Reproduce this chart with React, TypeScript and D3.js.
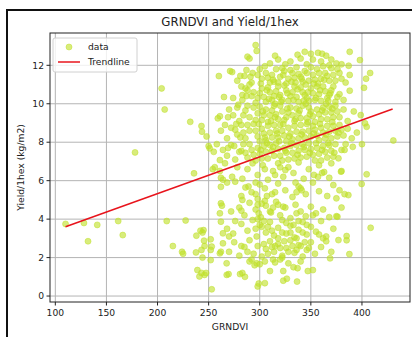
import React from 'react';
import * as d3 from 'd3';

const W = 412;
const H = 337;
const margin = { top: 33, right: 2, bottom: 35, left: 50 };

// points as [GRNDVI, yield]
const outliers = [
  [110, 3.75], [128, 3.8], [132, 2.85], [141, 3.7], [161.5, 3.9], [166, 3.17], [178, 7.47],
  [204, 10.8], [207, 9.7], [209, 3.9], [215, 2.6], [224, 2.3], [225, 2.2], [227.5, 3.93],
  [232, 9.06], [235.7, 6.38], [238, 3.14], [237.6, 2.27], [243, 8.84], [243.5, 8.55], [248, 8.3],
  [245, 3.43], [245.5, 2.88], [244, 2.0], [250, 7.8], [251, 7.68], [255, 7.5],
  [430.7, 8.09], [408.5, 3.55], [404.6, 6.33], [399.7, 5.83], [403, 8.98], [404.6, 8.8],
  [398.8, 9.41], [402, 10.83], [408, 11.6], [404, 11.3], [398, 12.27], [388, 12.7], [387, 11.98],
  [388, 10.68], [391, 7.76], [386.7, 5.25], [387.7, 2.18], [385, 3.12], [385, 2.9],
  [379.5, 6.47], [377, 7.16], [372, 5.77], [375, 5.08], [376, 4.13], [377, 2.91], [368.8, 1.96],
];

const upperCluster = [
  [296, 13.05], [297, 12.75], [288, 12.45], [290, 12.35], [315, 12.5], [318, 12.3], [330, 12.2],
  [337, 12.55], [344, 12.7], [350, 12.6], [357, 12.65], [361, 12.6], [365, 12.5], [340, 12.35],
  [352, 12.3], [360, 12.2], [370, 12.3], [375, 12.1], [380, 12.05], [325, 12.05], [310, 12.1],
  [305, 11.95], [346, 12.05], [368, 12.0],
  [260, 11.44], [271, 11.7], [273, 11.65], [281, 11.45], [285, 11.45], [293, 11.6], [298, 11.5],
  [302, 11.3], [306, 11.6], [312, 11.5], [316, 11.8], [320, 11.4], [324, 11.7], [328, 11.3],
  [332, 11.6], [336, 11.9], [340, 11.4], [344, 11.7], [348, 11.2], [352, 11.5], [356, 11.8],
  [360, 11.3], [364, 11.6], [368, 11.2], [372, 11.5], [376, 11.8], [380, 11.3], [384, 11.1],
  [388, 11.5], [310, 11.1], [318, 11.1], [335, 11.1], [345, 11.0], [357, 11.05], [292, 11.1],
  [278, 11.2], [300, 11.8], [308, 11.35], [314, 11.15], [322, 11.85], [326, 11.05], [330, 11.75],
  [338, 11.55], [342, 11.15], [350, 11.9], [354, 11.25], [358, 11.6], [362, 11.95], [366, 11.45],
  [370, 11.85], [374, 11.2], [378, 11.6], [346, 11.6], [334, 11.35],
  [265, 10.35], [274, 10.3], [282, 10.9], [286, 10.8], [290, 11.0], [283, 10.45], [287, 10.4],
  [294, 10.6], [298, 10.3], [302, 10.8], [306, 10.1], [310, 10.6], [314, 10.4], [318, 10.9],
  [322, 10.2], [326, 10.7], [330, 10.4], [334, 10.9], [338, 10.1], [342, 10.6], [346, 10.3],
  [350, 10.8], [354, 10.2], [358, 10.5], [362, 10.9], [366, 10.3], [370, 10.7], [374, 10.1],
  [378, 10.5], [382, 10.2], [296, 10.05], [315, 10.0], [345, 10.0], [365, 10.0],
  [300, 10.55], [304, 10.35], [308, 10.85], [312, 10.2], [316, 10.65], [320, 10.45], [324, 10.95],
  [328, 10.15], [332, 10.6], [336, 10.35], [340, 10.85], [344, 10.45], [348, 10.15], [352, 10.55],
  [356, 10.9], [360, 10.15], [364, 10.65], [368, 10.45], [372, 10.9], [376, 10.35], [292, 10.4],
  [288, 10.7],
  [270, 9.7], [278, 9.8], [286, 9.65], [261, 9.35], [269, 9.3], [259, 9.24], [290, 9.3],
  [294, 9.8], [298, 9.5], [302, 9.15], [306, 9.7], [310, 9.4], [314, 9.9], [318, 9.2],
  [322, 9.6], [326, 9.3], [330, 9.8], [334, 9.1], [338, 9.5], [342, 9.9], [346, 9.25],
  [350, 9.6], [354, 9.05], [358, 9.45], [362, 9.8], [366, 9.2], [370, 9.55], [374, 9.9],
  [378, 9.3], [382, 9.7], [386, 9.1], [280, 9.1], [274, 9.4], [392, 9.6],
  [296, 9.15], [300, 9.85], [304, 9.4], [308, 9.05], [312, 9.65], [316, 9.45], [320, 9.9],
  [324, 9.15], [328, 9.55], [332, 9.4], [336, 9.75], [340, 9.25], [348, 9.8], [352, 9.35],
  [356, 9.7], [360, 9.2], [364, 9.55], [368, 9.85], [372, 9.3], [376, 9.6], [284, 9.4], [288, 9.9],
  [266, 8.9], [262, 8.6], [272, 8.75], [278, 8.4], [282, 8.9], [286, 8.2], [290, 8.6],
  [294, 8.95], [298, 8.3], [302, 8.7], [306, 8.1], [310, 8.5], [314, 8.9], [318, 8.25],
  [322, 8.6], [326, 8.05], [330, 8.45], [334, 8.85], [338, 8.2], [342, 8.55], [346, 8.95],
  [350, 8.3], [354, 8.65], [358, 8.1], [362, 8.5], [366, 8.85], [370, 8.2], [374, 8.6],
  [378, 8.9], [382, 8.35], [386, 8.7], [390, 8.2], [395, 8.5], [268, 8.2],
  [296, 8.6], [300, 8.05], [304, 8.45], [308, 8.85], [312, 8.25], [316, 8.6], [320, 8.9],
  [324, 8.35], [328, 8.75], [332, 8.15], [336, 8.55], [340, 8.9], [344, 8.25], [348, 8.6],
  [352, 8.85], [356, 8.35], [360, 8.75], [364, 8.2], [368, 8.55], [372, 8.85], [376, 8.3],
  [380, 8.65], [288, 8.9], [284, 8.5], [276, 8.65],
  [258, 7.9], [261, 7.07], [264, 7.6], [268, 7.3], [272, 7.85], [276, 7.1], [280, 7.5],
  [284, 7.9], [288, 7.2], [292, 7.6], [296, 7.05], [300, 7.4], [304, 7.8], [308, 7.15],
  [312, 7.55], [316, 7.95], [320, 7.3], [324, 7.7], [328, 7.1], [332, 7.45], [336, 7.85],
  [340, 7.2], [344, 7.6], [348, 7.95], [352, 7.35], [356, 7.7], [360, 7.05], [364, 7.5],
  [368, 7.85], [372, 7.25], [380, 7.6], [384, 7.9], [400, 7.9], [383, 7.6],
  [290, 7.9], [294, 7.35], [298, 7.7], [302, 7.15], [306, 7.5], [310, 7.85], [314, 7.3],
  [318, 7.65], [322, 7.05], [326, 7.45], [330, 7.8], [334, 7.15], [338, 7.55], [342, 7.9],
  [346, 7.25], [350, 7.65], [354, 7.05], [358, 7.4], [362, 7.8], [366, 7.2], [370, 7.55],
  [374, 7.9], [282, 7.55], [286, 7.45], [269, 7.7],
  [261, 6.5], [266, 6.9], [273, 6.2], [278, 6.7], [283, 6.1], [288, 6.6], [293, 6.9],
  [298, 6.3], [303, 6.8], [308, 6.05], [313, 6.5], [318, 6.9], [323, 6.2], [328, 6.7],
  [333, 6.4], [338, 6.95], [343, 6.1], [348, 6.6], [353, 6.3], [358, 6.8], [363, 6.45],
  [368, 6.15], [370, 6.9], [380, 6.5], [254, 6.6], [256, 6.7], [262, 6.15], [264, 6.05],
  [305, 6.6], [315, 6.3], [320, 6.7], [325, 6.55], [357, 6.2], [361, 6.4],
];

// the densest patch, where the points pile on top of each other
const denseCore = [
  [301, 11.05], [307, 10.7], [313, 11.25], [319, 10.35], [323, 11.5], [327, 10.55], [331, 11.15],
  [337, 10.75], [341, 11.3], [347, 10.6], [353, 11.05], [359, 10.7], [363, 11.25], [369, 10.55],
  [303, 9.6], [309, 10.25], [315, 9.3], [321, 10.1], [327, 9.75], [333, 10.2], [339, 9.65],
  [343, 10.15], [349, 9.45], [355, 10.3], [361, 9.65], [367, 10.15], [371, 9.75],
  [299, 8.95], [305, 8.25], [311, 9.1], [317, 8.45], [323, 8.95], [329, 8.3], [335, 9.2],
  [341, 8.4], [347, 9.05], [353, 8.45], [359, 8.95], [365, 8.4], [371, 9.05], [377, 8.5],
  [301, 7.6], [307, 7.95], [313, 7.75], [319, 8.05], [325, 7.55], [331, 7.95], [337, 7.35],
  [343, 7.75], [349, 7.45], [355, 7.95], [361, 7.6], [367, 7.95], [373, 7.45],
  [279, 9.95], [283, 10.2], [277, 8.95], [281, 8.25], [275, 7.8], [291, 11.4], [287, 11.75],
];

const lowerCluster = [
  [262, 5.68], [268, 5.9], [276, 5.95], [286, 5.65], [289, 5.7], [282, 5.2], [292, 5.4],
  [298, 5.05], [305, 5.6], [312, 5.3], [318, 5.85], [325, 5.5], [332, 5.15], [338, 5.7],
  [345, 5.3], [352, 5.9], [358, 5.45], [366, 5.2], [300, 5.8], [335, 5.9], [340, 5.6],
  [315, 5.4], [296, 5.9], [307, 5.2], [283, 5.0], [336, 5.4], [341, 5.5], [378, 5.5],
  [383, 5.3], [296, 5.3],
  [262, 4.82], [261, 4.3], [263, 4.7], [272, 4.4], [280, 4.6], [282, 4.44], [285, 4.2],
  [290, 4.85], [296, 4.5], [298, 4.75], [301, 4.1], [306, 4.7], [311, 4.35], [316, 4.9],
  [320, 4.2], [323, 4.65], [325, 4.6], [330, 4.05], [335, 4.75], [336, 4.3], [340, 4.4],
  [345, 4.15], [350, 4.65], [352, 4.2], [355, 4.3], [362, 4.5], [368, 4.1], [375, 4.15],
  [380, 4.6], [302, 4.8], [310, 4.4], [313, 4.6], [299, 4.3], [305, 4.95], [318, 4.75],
  [262, 3.87], [264, 3.26], [268, 3.5], [270, 3.1], [274, 3.25], [276, 3.9], [282, 3.75],
  [288, 3.4], [293, 3.95], [297, 3.1], [298, 4.0], [300, 3.7], [302, 3.6], [306, 3.3],
  [310, 3.85], [312, 3.4], [314, 3.15], [318, 3.55], [318, 3.0], [322, 3.95], [322, 3.3],
  [326, 3.25], [330, 3.65], [330, 3.3], [333, 3.7], [334, 3.05], [336, 3.0], [338, 3.45],
  [338, 3.9], [342, 3.85], [342, 3.3], [346, 3.2], [350, 3.6], [355, 3.35], [360, 3.9],
  [365, 3.1], [372, 3.5], [296, 3.5], [304, 3.9], [308, 3.6], [326, 3.8], [346, 3.7],
  [358, 3.2], [244, 3.3], [242, 3.4],
  [264, 2.74], [262, 2.3], [270, 2.3], [275, 2.8], [280, 2.1], [282, 2.6], [285, 2.55],
  [288, 2.3], [290, 2.9], [294, 2.2], [298, 2.6], [302, 2.05], [306, 2.45], [310, 2.85],
  [314, 2.3], [315, 2.6], [318, 2.7], [320, 2.5], [322, 2.1], [326, 2.5], [330, 2.9],
  [334, 2.25], [338, 2.65], [340, 2.6], [342, 2.05], [344, 2.8], [346, 2.4], [350, 2.8],
  [354, 2.2], [360, 2.55], [365, 2.85], [370, 2.3], [362, 3.0], [304, 2.7], [308, 2.2],
  [312, 2.55], [324, 2.85], [328, 2.3], [332, 2.6], [336, 2.4], [348, 2.5], [261, 2.22],
  [252, 2.4], [246, 2.6], [243, 2.4], [252, 2.95], [253, 2.57],
  [252, 1.87], [239, 1.35], [241, 1.02], [243, 1.2], [246, 1.1], [247.5, 1.2], [253, 0.35],
  [267.6, 1.7], [267.7, 1.1], [269.5, 1.14], [280.7, 1.14], [285.5, 1.0], [283, 1.2],
  [290, 1.8], [295, 1.6], [297, 1.7], [300, 1.65], [299, 0.65], [298, 0.5], [305, 0.67],
  [310, 1.3], [320, 1.9], [322, 2.0], [323, 1.3], [323, 0.8], [326.5, 0.9], [333, 1.5],
  [336.5, 0.75], [337, 1.45], [347, 1.3], [352, 1.35], [313, 1.9], [292, 1.9], [305, 1.8],
  [315, 1.75], [328, 1.7], [340, 1.8],
];

const xTicks = [100, 150, 200, 250, 300, 350, 400];
const yTicks = [0, 2, 4, 6, 8, 10, 12];
const trendX = [110, 430];
const trendY = [3.6, 9.73];

const pointColor = '#c0e02a';
const lineColor = '#e8141c';
const font = 'DejaVu Sans, sans-serif';

export default function App() {
  const x = d3.scaleLinear().domain([94.8, 447]).range([margin.left, W - margin.right]);
  const y = d3.scaleLinear().domain([-0.31, 13.68]).range([H - margin.bottom, margin.top]);

  const points = [...outliers, ...upperCluster, ...denseCore, ...lowerCluster];
  const trend = d3.line<number>()
    .x((d) => x(trendX[d]))
    .y((d) => y(trendY[d]));

  const left = margin.left, right = W - margin.right;
  const top = margin.top, bottom = H - margin.bottom;

  return (
    <svg width={W} height={H} style={{ position: 'absolute', left: 0, top: 0, background: '#fff' }}
      fontFamily={font}>
      {/* outer frame */}
      <path d={`M7,${H} V10 H${W}`} fill="none" stroke="#111" strokeWidth={2} />

      {/* grid */}
      {xTicks.map((t) => (
        <line key={'gx' + t} x1={x(t)} x2={x(t)} y1={top} y2={bottom} stroke="#b4b4b4" strokeWidth={1} />
      ))}
      {yTicks.map((t) => (
        <line key={'gy' + t} x1={left} x2={right} y1={y(t)} y2={y(t)} stroke="#b4b4b4" strokeWidth={1} />
      ))}

      {/* scatter */}
      {points.map((p, i) => (
        <circle key={i} cx={x(p[0])} cy={y(p[1])} r={3}
          fill={pointColor} fillOpacity={0.62} stroke={pointColor} strokeOpacity={0.62} strokeWidth={0.8} />
      ))}

      {/* trendline */}
      <path d={trend([0, 1]) || ''} fill="none" stroke={lineColor} strokeWidth={1.5} />

      {/* spines */}
      <rect x={left} y={top} width={right - left} height={bottom - top} fill="none" stroke="#222" strokeWidth={1} />

      {/* ticks */}
      {xTicks.map((t) => (
        <g key={'tx' + t}>
          <line x1={x(t)} x2={x(t)} y1={bottom} y2={bottom + 3.5} stroke="#222" />
          <text x={x(t)} y={bottom + 14} textAnchor="middle" fontSize={9.2} fill="#222">{t}</text>
        </g>
      ))}
      {yTicks.map((t) => (
        <g key={'ty' + t}>
          <line x1={left - 3.5} x2={left} y1={y(t)} y2={y(t)} stroke="#222" />
          <text x={left - 6} y={y(t)} dy="0.35em" textAnchor="end" fontSize={9.2} fill="#222">{t}</text>
        </g>
      ))}

      {/* labels */}
      <text x={(left + right) / 2} y={26} textAnchor="middle" fontSize={11.8} fill="#222">GRNDVI and Yield/1hex</text>
      <text x={(left + right) / 2} y={330} textAnchor="middle" fontSize={9.2} fill="#222">GRNDVI</text>
      <text transform={`translate(24,${(top + bottom) / 2}) rotate(-90)`} textAnchor="middle" fontSize={9.2} fill="#222">
        Yield/1hex (kg/m2)
      </text>

      {/* legend */}
      <g>
        <rect x={53} y={38} width={84} height={34} rx={2} fill="#fff" fillOpacity={0.8} stroke="#d0d0d0" />
        <circle cx={69} cy={47} r={3} fill={pointColor} fillOpacity={0.62} stroke={pointColor} strokeOpacity={0.62} strokeWidth={0.8} />
        <line x1={58} x2={80} y1={62} y2={62} stroke={lineColor} strokeWidth={1.5} />
        <text x={88} y={47} dy="0.35em" fontSize={9.2} fill="#222">data</text>
        <text x={88} y={62} dy="0.35em" fontSize={9.2} fill="#222">Trendline</text>
      </g>
    </svg>
  );
}
